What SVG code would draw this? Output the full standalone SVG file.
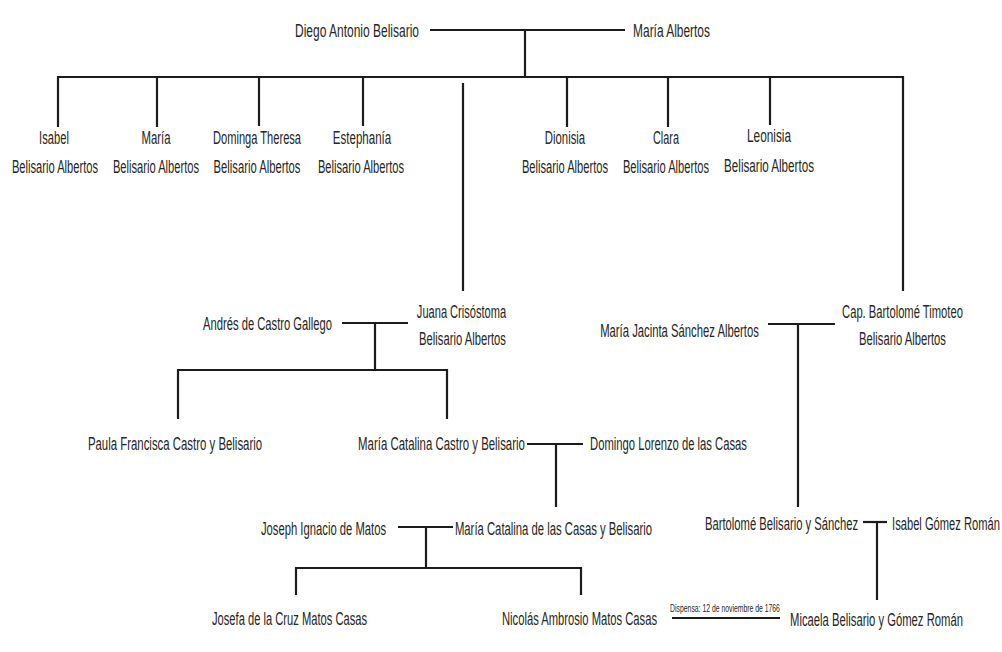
<svg xmlns="http://www.w3.org/2000/svg" width="1002" height="652" viewBox="0 0 1002 652">
<style>
text{font-family:"Liberation Sans",Arial,sans-serif;font-size:18px;fill:#262626;text-anchor:middle}
.small{font-size:14px}
.c line{stroke:#1c1c1c;stroke-width:2.2;stroke-linecap:butt}
</style>
<rect width="1002" height="652" fill="#ffffff"/>
<g class="c" id="connectors">
<line x1="430" y1="30" x2="625" y2="30"/>
<line x1="525" y1="30" x2="525" y2="77"/>
<line x1="57" y1="77" x2="904" y2="77"/>
<line x1="58" y1="76" x2="58" y2="127"/>
<line x1="157" y1="76" x2="157" y2="127"/>
<line x1="259" y1="76" x2="259" y2="126"/>
<line x1="363" y1="76" x2="363" y2="126"/>
<line x1="463" y1="83" x2="463" y2="291"/>
<line x1="567" y1="76" x2="567" y2="127"/>
<line x1="668" y1="76" x2="668" y2="127"/>
<line x1="770" y1="76" x2="770" y2="125"/>
<line x1="903" y1="76" x2="903" y2="291"/>
<line x1="342" y1="323" x2="408" y2="323"/>
<line x1="375" y1="323" x2="375" y2="370"/>
<line x1="177" y1="370" x2="448" y2="370"/>
<line x1="178" y1="369" x2="178" y2="419"/>
<line x1="447" y1="369" x2="447" y2="419"/>
<line x1="768" y1="324" x2="835" y2="324"/>
<line x1="798" y1="324" x2="798" y2="507"/>
<line x1="527" y1="444" x2="583" y2="444"/>
<line x1="556" y1="444" x2="556" y2="507"/>
<line x1="398" y1="527" x2="453" y2="527"/>
<line x1="426" y1="527" x2="426" y2="568"/>
<line x1="295" y1="568" x2="582" y2="568"/>
<line x1="296" y1="567" x2="296" y2="595"/>
<line x1="581" y1="567" x2="581" y2="595"/>
<line x1="863" y1="522" x2="887" y2="522"/>
<line x1="877" y1="522" x2="877" y2="600"/>
<line x1="672" y1="618" x2="780" y2="618"/>
</g>
<g id="diego"><text transform="translate(357,37) scale(0.62,1.05)" textLength="200" lengthAdjust="spacingAndGlyphs">Diego Antonio Belisario</text></g>
<g id="maria-albertos"><text transform="translate(671.5,37) scale(0.62,1.05)" textLength="124" lengthAdjust="spacingAndGlyphs">María Albertos</text></g>
<g id="isabel"><text transform="translate(54,144) scale(0.62,1.05)" textLength="48" lengthAdjust="spacingAndGlyphs">Isabel</text><text transform="translate(55,173) scale(0.62,1.05)" textLength="139" lengthAdjust="spacingAndGlyphs">Belisario Albertos</text></g>
<g id="maria"><text transform="translate(156,144) scale(0.62,1.05)" textLength="47" lengthAdjust="spacingAndGlyphs">María</text><text transform="translate(156,173) scale(0.62,1.05)" textLength="139" lengthAdjust="spacingAndGlyphs">Belisario Albertos</text></g>
<g id="dominga"><text transform="translate(257,144) scale(0.62,1.05)" textLength="142" lengthAdjust="spacingAndGlyphs">Dominga Theresa</text><text transform="translate(257,173) scale(0.62,1.05)" textLength="140" lengthAdjust="spacingAndGlyphs">Belisario Albertos</text></g>
<g id="estephania"><text transform="translate(362,144) scale(0.62,1.05)" textLength="94" lengthAdjust="spacingAndGlyphs">Estephanía</text><text transform="translate(361,173) scale(0.62,1.05)" textLength="139" lengthAdjust="spacingAndGlyphs">Belisario Albertos</text></g>
<g id="dionisia"><text transform="translate(565,144) scale(0.62,1.05)" textLength="65" lengthAdjust="spacingAndGlyphs">Dionisia</text><text transform="translate(565,173) scale(0.62,1.05)" textLength="139" lengthAdjust="spacingAndGlyphs">Belisario Albertos</text></g>
<g id="clara"><text transform="translate(666,144) scale(0.62,1.05)" textLength="42" lengthAdjust="spacingAndGlyphs">Clara</text><text transform="translate(666,173) scale(0.62,1.05)" textLength="139" lengthAdjust="spacingAndGlyphs">Belisario Albertos</text></g>
<g id="leonisia"><text transform="translate(769,142) scale(0.62,1.05)" textLength="71" lengthAdjust="spacingAndGlyphs">Leonisia</text><text transform="translate(769,172) scale(0.62,1.05)" textLength="145" lengthAdjust="spacingAndGlyphs">Belisario Albertos</text></g>
<g id="andres"><text transform="translate(267.5,330) scale(0.62,1.05)" textLength="208" lengthAdjust="spacingAndGlyphs">Andrés de Castro Gallego</text></g>
<g id="juana"><text transform="translate(461.5,318) scale(0.62,1.05)" textLength="144" lengthAdjust="spacingAndGlyphs">Juana Crisóstoma</text><text transform="translate(462.5,345) scale(0.62,1.05)" textLength="140" lengthAdjust="spacingAndGlyphs">Belisario Albertos</text></g>
<g id="maria-jacinta"><text transform="translate(679.5,337) scale(0.62,1.05)" textLength="256" lengthAdjust="spacingAndGlyphs">María Jacinta Sánchez Albertos</text></g>
<g id="bartolome-timoteo"><text transform="translate(902.5,318) scale(0.62,1.05)" textLength="195" lengthAdjust="spacingAndGlyphs">Cap. Bartolomé Timoteo</text><text transform="translate(902.5,345) scale(0.62,1.05)" textLength="140" lengthAdjust="spacingAndGlyphs">Belisario Albertos</text></g>
<g id="paula"><text transform="translate(175,450) scale(0.62,1.05)" textLength="281" lengthAdjust="spacingAndGlyphs">Paula Francisca Castro y Belisario</text></g>
<g id="maria-catalina-castro"><text transform="translate(441.5,450) scale(0.62,1.05)" textLength="269" lengthAdjust="spacingAndGlyphs">María Catalina Castro y Belisario</text></g>
<g id="domingo"><text transform="translate(668.5,450) scale(0.62,1.05)" textLength="253" lengthAdjust="spacingAndGlyphs">Domingo Lorenzo de las Casas</text></g>
<g id="joseph"><text transform="translate(323.5,535) scale(0.62,1.05)" textLength="202" lengthAdjust="spacingAndGlyphs">Joseph Ignacio de Matos</text></g>
<g id="maria-catalina-casas"><text transform="translate(553.5,535) scale(0.62,1.05)" textLength="318" lengthAdjust="spacingAndGlyphs">María Catalina de las Casas y Belisario</text></g>
<g id="bartolome-sanchez"><text transform="translate(781.5,530) scale(0.62,1.05)" textLength="247" lengthAdjust="spacingAndGlyphs">Bartolomé Belisario y Sánchez</text></g>
<g id="isabel-gomez"><text transform="translate(946,530) scale(0.62,1.05)" textLength="174" lengthAdjust="spacingAndGlyphs">Isabel Gómez Román</text></g>
<g id="josefa"><text transform="translate(289.5,625) scale(0.62,1.05)" textLength="250" lengthAdjust="spacingAndGlyphs">Josefa de la Cruz Matos Casas</text></g>
<g id="nicolas"><text transform="translate(579.5,625) scale(0.62,1.05)" textLength="250" lengthAdjust="spacingAndGlyphs">Nicolás Ambrosio Matos Casas</text></g>
<g id="dispensa"><text class="small" transform="translate(725,612) scale(0.6,0.8)" textLength="183" lengthAdjust="spacingAndGlyphs">Dispensa: 12 de noviembre de 1766</text></g>
<g id="micaela"><text transform="translate(876.5,626) scale(0.62,1.05)" textLength="279" lengthAdjust="spacingAndGlyphs">Micaela Belisario y Gómez Román</text></g>
</svg>
